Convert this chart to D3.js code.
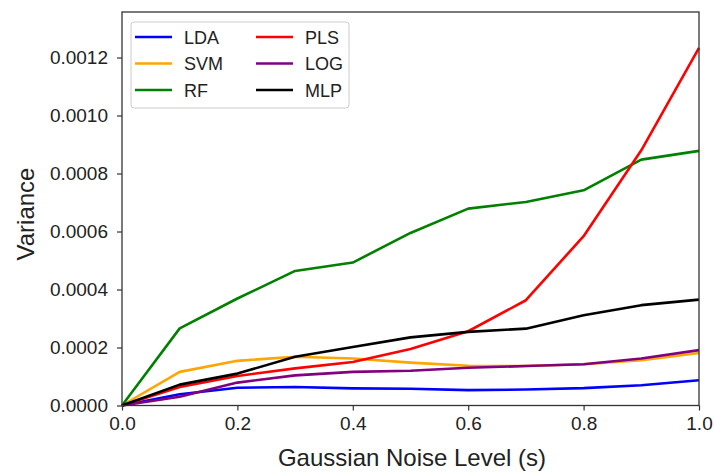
<!DOCTYPE html>
<html><head><meta charset="utf-8">
<script src="https://cdn.jsdelivr.net/npm/d3@7"></script>
<style>body{margin:0;background:#fff;} svg{display:block;font-family:"Liberation Sans",Arial,sans-serif;}</style>
</head><body>
<svg id="c" width="714" height="473"></svg>
<script>
const noise = [0.0,0.1,0.2,0.3,0.4,0.5,0.6,0.7,0.8,0.9,1.0];
const LDA = [0,0.000039,0.000061,0.000064,0.000059,0.000058,0.000053,0.000055,0.00006,0.00007,0.000087];
const SVM = [0,0.000116,0.000154,0.000168,0.000162,0.000148,0.000137,0.000136,0.000142,0.000156,0.000181];
const RF  = [0,0.000266,0.000369,0.000464,0.000493,0.000595,0.000679,0.000702,0.000742,0.000848,0.000878];
const PLS = [0,0.000064,0.000102,0.000128,0.00015,0.000195,0.000256,0.000363,0.000584,0.00088,0.001233];
const LOG = [0,0.00003,0.000079,0.000104,0.000116,0.00012,0.00013,0.000136,0.000142,0.000162,0.000191];
const MLP = [0,0.000072,0.00011,0.000168,0.000202,0.000235,0.000254,0.000265,0.000311,0.000346,0.000365];
const seriesNames = ["LDA","SVM","RF","PLS","LOG","MLP"];
const seriesColors = ["#0000ff","#ffa500","#008000","#ff0000","#800080","#000000"];
const seriesValues = [LDA,SVM,RF,PLS,LOG,MLP];
const xTicks = [0,0.2,0.4,0.6,0.8,1.0];
const yTicks = [0,0.0002,0.0004,0.0006,0.0008,0.0010,0.0012];

const svg = d3.select("#c");
const L=122, R=699, T=12, B=405.5;
const x = d3.scaleLinear().domain([0,1]).range([L,R]);
const y = d3.scaleLinear().domain([0,0.001357]).range([B,T]);

const line = d3.line().x((d,i)=>x(noise[i])).y(d=>y(d));
const g = svg.append("g");
seriesValues.forEach((vals,k)=>{
  g.append("path").datum(vals).attr("d",line).attr("fill","none")
   .attr("stroke",seriesColors[k]).attr("stroke-width",2.6).attr("stroke-linejoin","round");
});

// frame
svg.append("rect").attr("x",L).attr("y",T).attr("width",R-L).attr("height",B-T)
  .attr("fill","none").attr("stroke","#333").attr("stroke-width",1.3);

const xa = svg.append("g").attr("transform",`translate(0,${B})`)
  .call(d3.axisBottom(x).tickValues(xTicks).tickFormat(d3.format(".1f")).tickSize(5).tickPadding(4));
const ya = svg.append("g").attr("transform",`translate(${L},0)`)
  .call(d3.axisLeft(y).tickValues(yTicks).tickFormat(d3.format(".4f")).tickSize(5).tickPadding(4));
[xa,ya].forEach(a=>{
  a.select(".domain").remove();
  a.selectAll("line").attr("stroke","#333").attr("stroke-width",1.2);
  a.selectAll("text").attr("font-size",19).attr("fill","#222").attr("font-family","'Liberation Sans',Arial,sans-serif");
});
ya.selectAll("text").attr("x",-14);
xa.selectAll("text").attr("y",11);

svg.append("text").attr("x",412).attr("y",466).attr("text-anchor","middle")
  .attr("font-size",24).attr("fill","#222").text("Gaussian Noise Level (s)");
svg.append("text").attr("transform",`translate(34,214) rotate(-90)`).attr("text-anchor","middle")
  .attr("font-size",24).attr("fill","#222").text("Variance");

// legend
const lg = svg.append("g");
lg.append("rect").attr("x",131).attr("y",22).attr("width",218).attr("height",86).attr("rx",3)
  .attr("fill","#fff").attr("fill-opacity",0.8).attr("stroke","#ccc").attr("stroke-width",1);
seriesNames.forEach((n,k)=>{
  const col = Math.floor(k/3), row = k%3;
  const x0 = col===0 ? 135 : 256, yy = 37 + row*26.5;
  lg.append("line").attr("x1",x0).attr("x2",x0+37).attr("y1",yy).attr("y2",yy)
    .attr("stroke",seriesColors[k]).attr("stroke-width",2.6);
  lg.append("text").attr("x",x0+49).attr("y",yy+6.5).attr("font-size",18).attr("fill","#222").text(n);
});
</script>
</body></html>
